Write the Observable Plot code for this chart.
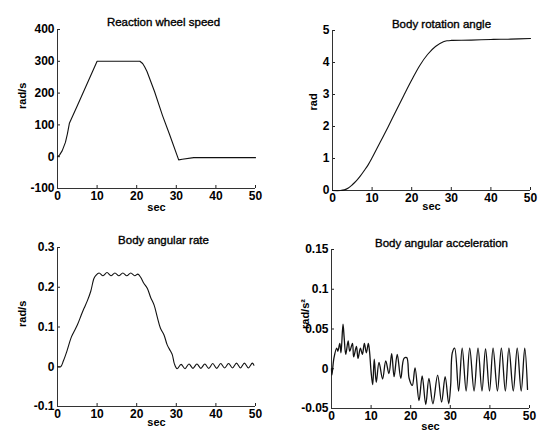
<!DOCTYPE html>
<html><head><meta charset="utf-8">
<script src="https://cdn.jsdelivr.net/npm/d3@7"></script>
<script src="https://cdn.jsdelivr.net/npm/@observablehq/plot@0.6"></script>
<style>
body{margin:0;background:#fff;}
#fig{position:relative;width:545px;height:437px;background:#fff;overflow:hidden;}
#fig > svg{position:absolute;}
</style></head><body><div id="fig"></div>
<script>
// ---- data ----
const timeTicks = [0, 10, 20, 30, 40, 50];
const wheelTicks = [-100, 0, 100, 200, 300, 400];
const angleTicks = [0, 1, 2, 3, 4, 5];
const rateTicks = [-0.1, 0, 0.1, 0.2, 0.3];
const accelTicks = [-0.05, 0, 0.05, 0.1, 0.15];

const titles = ["Reaction wheel speed", "Body rotation angle", "Body angular rate", "Body angular acceleration"];
const yLabels = ["rad/s", "rad", "rad/s", "rad/s²"];
const xLabel = "sec";

// [time (sec), value]
const wheelSpeed = [[0,0],[0.5,5],[1.2,19],[2,45],[2.5,72],[3,105],[5,160],[7.5,230],[10,300],[20.8,300],[21.5,293],[22,283],[22.6,268],[24.5,205],[26.5,130],[28.3,70],[30.6,-10],[31.5,-8],[34.4,-3],[50,-3]];

const rotationAngle = [[0,0],[2,0],[3,0.02],[4,0.08],[5,0.18],[6,0.3],[7,0.45],[8,0.62],[9,0.8],[10,1.02],[12,1.5],[14,1.98],[16,2.48],[18,2.97],[20,3.45],[22,3.9],[24,4.25],[26,4.5],[28,4.65],[29,4.68],[30,4.69],[35,4.7],[40,4.72],[45,4.73],[50,4.75]];

const angularRate = [[0,0],[0.8,0],[1.5,0.015],[2.4,0.04],[3.4,0.072],[4,0.085],[5,0.105],[6,0.13],[6.7,0.147],[7.5,0.165],[8.4,0.19],[9.2,0.222],[9.7,0.23],[10.5,0.236],[11.5,0.229],[12.5,0.237],[13.5,0.229],[14.5,0.236],[15.5,0.229],[16.5,0.236],[17.5,0.229],[18.5,0.236],[19.5,0.229],[20.3,0.233],[21,0.225],[21.8,0.21],[22.7,0.197],[23.5,0.175],[24.4,0.155],[25.2,0.125],[26,0.097],[26.9,0.08],[27.7,0.055],[28.5,0.04],[29,0.03],[29.5,0.008],[30.2,-0.005],[31.2,0.006],[32.2,-0.005],[33.2,0.007],[34.2,-0.004],[35.2,0.007],[36.2,-0.004],[37.2,0.007],[38.2,-0.004],[39.2,0.008],[40.2,-0.004],[41.2,0.008],[42.2,-0.003],[43.2,0.008],[44.2,-0.003],[45.2,0.009],[46.2,-0.003],[47.2,0.009],[48.2,-0.003],[49.2,0.009],[49.6,0.004]];

const angularAccel = [[0,0],[0.1,-0.008],[0.6,0.013],[1.3,0.026],[1.6,0.022],[2.1,0.032],[2.4,0.02],[2.9,0.056],[3.2,0.039],[3.6,0.018],[4.2,0.035],[4.6,0.022],[5.3,0.032],[5.6,0.015],[6.3,0.028],[6.7,0.013],[7.3,0.026],[7.8,0.018],[8.3,0.032],[8.8,0.02],[9.3,0.032],[9.6,0.022],[10,-0.004],[10.4,-0.02],[10.8,0.012],[11.3,-0.017],[12,0.008],[12.9,-0.013],[13.7,0.01],[14.5,-0.006],[15.2,0.019],[15.8,-0.01],[16.6,0.018],[17.5,-0.012],[18.3,0.013],[19,0.014],[19.6,-0.012],[20.4,-0.021],[21.1,0.001],[22.1,-0.04],[22.9,-0.009],[23.8,-0.045],[24.6,-0.012],[25.6,-0.044],[26.8,-0.008],[27.8,-0.042],[28.7,-0.01],[29.6,-0.044],[30.1,-0.02],[30.5,0.02],[31.1,0.026],[32.1,-0.028],[33,0.026],[34,-0.028],[34.9,0.026],[36,-0.028],[37,0.026],[38,-0.028],[38.9,0.025],[39.9,-0.028],[40.8,0.026],[41.9,-0.028],[42.9,0.026],[43.9,-0.028],[44.8,0.026],[45.9,-0.028],[46.9,0.026],[47.9,-0.028],[48.8,0.026],[49.5,-0.026]];

// ---- layout ----
const panels = [
  {data: wheelSpeed, yTicks: wheelTicks, left: 0, top: 0, width: 272, height: 218, m: [29, 17, 30, 57], titleDx: 7, titleDy: -12, yLabDx: -35, xLabDy: 22, curve: "linear", sw: 1.1},
  {data: rotationAngle, yTicks: angleTicks, left: 272, top: 0, width: 273, height: 218, m: [30, 15, 28, 60], titleDx: 10, titleDy: -11, yLabDx: -19, xLabDy: 19, curve: "catmull-rom", sw: 1.1},
  {data: angularRate, yTicks: rateTicks, left: 0, top: 218, width: 272, height: 219, m: [29, 17, 31, 57], titleDx: 7, titleDy: -11.5, yLabDx: -35, xLabDy: 19.5, curve: "catmull-rom", sw: 1.1},
  {data: angularAccel, yTicks: accelTicks, left: 272, top: 218, width: 273, height: 219, m: [31, 16, 29, 59], titleDx: 11, titleDy: -11, yLabDx: -26, xLabDy: 21, curve: "catmull-rom", sw: 1.3}
];

const fig = document.getElementById("fig");
panels.forEach((p, i) => {
  const [mt, mr, mb, ml] = p.m;
  const yDom = [p.yTicks[0], p.yTicks[p.yTicks.length - 1]];
  const pw = p.width - ml - mr, ph = p.height - mt - mb;
  const svg = Plot.plot({
    width: p.width, height: p.height,
    marginTop: mt, marginRight: mr, marginBottom: mb, marginLeft: ml,
    style: {fontFamily: "'Liberation Sans', Arial, sans-serif", fontSize: "12px", color: "#000", background: "transparent"},
    x: {domain: [0, 50], axis: null},
    y: {domain: yDom, axis: null},
    marks: [
      Plot.axisX({ticks: timeTicks, tickSize: 0, tickPadding: 3, label: null, fontWeight: "bold", fontSize: 12}),
      Plot.axisY({ticks: p.yTicks, tickSize: 0, tickPadding: 3, label: null, tickFormat: d => String(d), fontWeight: "bold", fontSize: 12}),
      Plot.tickX(timeTicks, {x: d => d, insetTop: ph - 3, stroke: "#222"}),
      Plot.tickY(p.yTicks, {y: d => d, insetRight: pw - 3, stroke: "#222"}),
      Plot.ruleX([0], {stroke: "#333"}),
      Plot.ruleY([yDom[0]], {stroke: "#333"}),
      Plot.line(p.data, {x: d => d[0], y: d => d[1], stroke: "#111", strokeWidth: p.sw, curve: p.curve}),
      Plot.text([titles[i]], {frameAnchor: "top", dx: p.titleDx, dy: p.titleDy, fontSize: 11.5, fill: "#000", stroke: "#000", strokeWidth: 0.35}),
      Plot.text([yLabels[i]], {frameAnchor: "left", rotate: -90, dx: p.yLabDx, fontSize: 11, fontWeight: "bold", fill: "#000"}),
      Plot.text([xLabel], {frameAnchor: "bottom", dy: p.xLabDy, fontSize: 11, fontWeight: "bold", fill: "#000"})
    ]
  });
  svg.style.left = p.left + "px";
  svg.style.top = p.top + "px";
  fig.appendChild(svg);
});
</script>
</body></html>
